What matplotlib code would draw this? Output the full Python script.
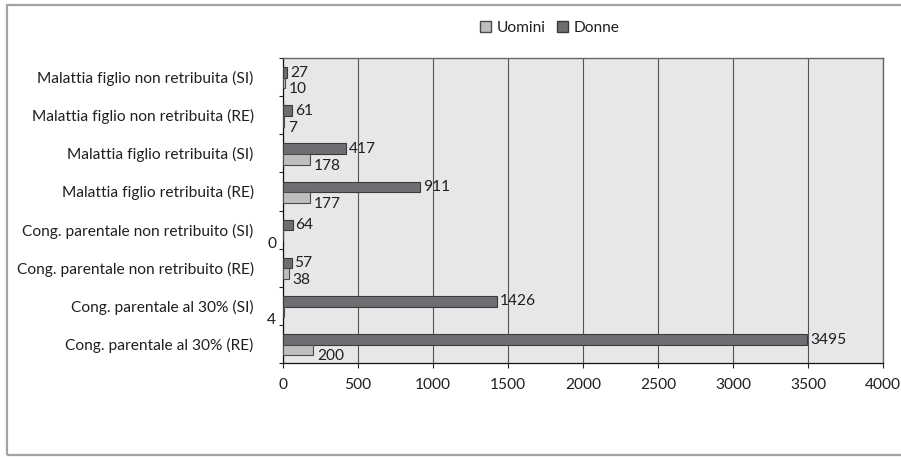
import matplotlib
matplotlib.use("Agg")
import matplotlib.pyplot as plt
from matplotlib.patches import Rectangle, Patch
import numpy as np

plt.rcParams['font.family'] = ['Lato', 'DejaVu Sans']

# Categories listed top to bottom
categories = [
    "Malattia figlio non retribuita (SI)",
    "Malattia figlio non retribuita (RE)",
    "Malattia figlio retribuita (SI)",
    "Malattia figlio retribuita (RE)",
    "Cong. parentale non retribuito (SI)",
    "Cong. parentale non retribuito (RE)",
    "Cong. parentale al 30% (SI)",
    "Cong. parentale al 30% (RE)",
]
donne = [27, 61, 417, 911, 64, 57, 1426, 3495]
uomini = [10, 7, 178, 177, 0, 38, 4, 200]
x_ticks = [0, 500, 1000, 1500, 2000, 2500, 3000, 3500, 4000]

W, H = 901, 457
fig = plt.figure(figsize=(W / 100, H / 100), dpi=100)
fig.patch.set_facecolor("white")

# outer frame (open on the right side)
fig.add_artist(Rectangle((6.5 / W, 2 / H), 1.2, (455 - 4.5) / H,
                         transform=fig.transFigure, fill=False,
                         edgecolor="#a3a3a3", linewidth=1.6))

ax = fig.add_axes([283 / W, 94 / H, 600 / W, 305 / H])
ax.set_facecolor("#e6e7e8")

text_col = "#231f20"
c_donne = "#6d6e71"
c_uomini = "#bcbec0"
bh = 0.28

y = np.arange(len(categories))
ax.barh(y - bh / 2 + 0.02, donne, height=bh, color=c_donne,
        edgecolor="#3a3a3a", linewidth=0.8, zorder=3, label="Donne")
ax.barh(y + bh / 2 + 0.02, uomini, height=bh, color=c_uomini,
        edgecolor="#4a4a4a", linewidth=0.8, zorder=3, label="Uomini")

fs = 11.2
for i, v in enumerate(donne):
    ax.annotate(str(v), (v, y[i] - bh / 2), xytext=(3, -1),
                textcoords="offset pixels", ha="left", va="center",
                fontsize=fs, color=text_col)
for i, v in enumerate(uomini):
    if v < 5:
        ax.annotate(str(v), (0, y[i] + bh / 2), xytext=(-7, -9),
                    textcoords="offset pixels", ha="right", va="center",
                    fontsize=fs, color=text_col)
    else:
        ax.annotate(str(v), (v, y[i] + bh / 2), xytext=(4, -7),
                    textcoords="offset pixels", ha="left", va="center",
                    fontsize=fs, color=text_col)

ax.set_xlim(0, 4000)
ax.set_ylim(len(categories) - 0.5, -0.5)
ax.set_xticks(x_ticks)
ax.set_xticklabels([str(t) for t in x_ticks], fontsize=fs, color=text_col)
ax.set_yticks(y)
ax.set_yticklabels(categories, fontsize=fs, color=text_col)
ax.set_yticks(np.arange(len(categories) + 1) - 0.5, minor=True)

ax.tick_params(axis="y", which="major", length=0, pad=21)
ax.tick_params(axis="y", which="minor", length=3, width=0.8, color="#222222")
ax.tick_params(axis="x", length=3.5, width=0.8, color="#222222", pad=7)

ax.grid(axis="x", color="#555555", linewidth=0.8, zorder=1)
ax.set_axisbelow(True)
for side in ("top", "right"):
    ax.spines[side].set_color("#666666")
    ax.spines[side].set_linewidth(1.0)
for side in ("left", "bottom"):
    ax.spines[side].set_color("#111111")
    ax.spines[side].set_linewidth(0.9)

handles = [Patch(facecolor=c_uomini, edgecolor="#4a4a4a", label="Uomini"),
           Patch(facecolor=c_donne, edgecolor="#3a3a3a", label="Donne")]
fig.legend(handles=handles, loc="center", bbox_to_anchor=(550 / W, 1 - 28 / H),
           ncol=2, frameon=False, fontsize=fs, handlelength=0.7,
           handleheight=0.7, handletextpad=0.4, columnspacing=0.7,
           labelcolor=text_col)

fig.savefig("out.png", dpi=100)
